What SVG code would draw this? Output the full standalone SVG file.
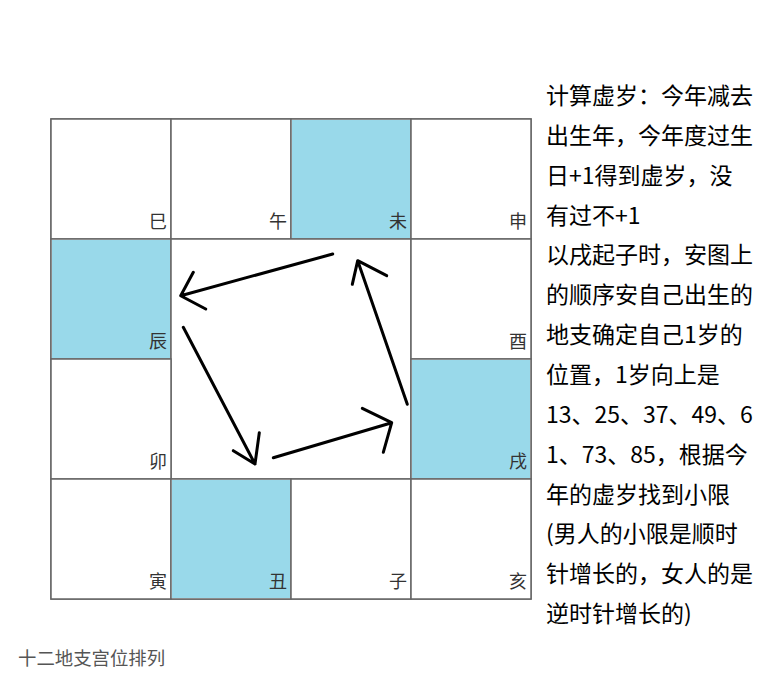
<svg xmlns="http://www.w3.org/2000/svg" width="781" height="683" viewBox="0 0 781 683">
<style>
.cell{fill:#ffffff;stroke:#666666;stroke-width:1.5}
.blue{fill:#99D9EA}
.lbl{font-family:"Noto Sans CJK SC","Noto Sans",sans-serif;font-size:18px;fill:#333333;text-anchor:end}
.note{font-family:"Noto Sans CJK SC","Noto Sans",sans-serif;font-size:23px;fill:#000000}
.cap{font-family:"Noto Sans CJK SC","Noto Sans",sans-serif;font-size:18.4px;fill:#555555}
.arr{fill:none;stroke:#000000;stroke-width:3;stroke-linecap:round;stroke-linejoin:round}
</style>
<rect width="781" height="683" fill="#ffffff"/>
<g id="grid-frame">
<rect x="51" y="119" width="480" height="480" fill="#ffffff" stroke="#666666" stroke-width="1.5"/>
</g>
<g id="cell-si"><rect class="cell" x="51" y="119" width="120" height="120"/><text class="lbl" x="167" y="228">巳</text></g>
<g id="cell-wu"><rect class="cell" x="171" y="119" width="120" height="120"/><text class="lbl" x="287" y="228">午</text></g>
<g id="cell-wei"><rect class="cell" x="291" y="119" width="120" height="120"/><rect class="blue" x="292" y="120" width="118" height="118"/><text class="lbl" x="407" y="228">未</text></g>
<g id="cell-shen"><rect class="cell" x="411" y="119" width="120" height="120"/><text class="lbl" x="527" y="228">申</text></g>
<g id="cell-chen"><rect class="cell" x="51" y="239" width="120" height="120"/><rect class="blue" x="52" y="240" width="118" height="118"/><text class="lbl" x="167" y="348">辰</text></g>
<g id="cell-center"><rect class="cell" x="171" y="239" width="240" height="240"/></g>
<g id="cell-you"><rect class="cell" x="411" y="239" width="120" height="120"/><text class="lbl" x="527" y="348">酉</text></g>
<g id="cell-mao"><rect class="cell" x="51" y="359" width="120" height="120"/><text class="lbl" x="167" y="468">卯</text></g>
<g id="cell-xu"><rect class="cell" x="411" y="359" width="120" height="120"/><rect class="blue" x="412" y="360" width="118" height="118"/><text class="lbl" x="527" y="468">戌</text></g>
<g id="cell-yin"><rect class="cell" x="51" y="479" width="120" height="120"/><text class="lbl" x="167" y="588">寅</text></g>
<g id="cell-chou"><rect class="cell" x="171" y="479" width="120" height="120"/><rect class="blue" x="172" y="480" width="118" height="118"/><text class="lbl" x="287" y="588">丑</text></g>
<g id="cell-zi"><rect class="cell" x="291" y="479" width="120" height="120"/><text class="lbl" x="407" y="588">子</text></g>
<g id="cell-hai"><rect class="cell" x="411" y="479" width="120" height="120"/><text class="lbl" x="527" y="588">亥</text></g>
<g id="connectors">
<path class="arr" d="M332.7,254 L180.7,295.7 M193.3,272.3 L180.7,295.7 L205.7,309"/>
<path class="arr" d="M183.3,327.3 L255,464 M233.3,450.7 L255,464 L259.3,432.7"/>
<path class="arr" d="M273.3,457.7 L391.7,422.7 M362.3,408.3 L391.7,422.7 L383.3,452.3"/>
<path class="arr" d="M407.3,404.3 L357.7,260.7 M352.3,284.3 L357.7,260.7 L386.7,275.7"/>
</g>
<g id="note">
<text class="note" x="546" y="104">计算虚岁：今年减去</text>
<text class="note" x="546" y="143.9">出生年，今年度过生</text>
<text class="note" x="546" y="183.7">日+1得到虚岁，没</text>
<text class="note" x="546" y="223.6">有过不+1</text>
<text class="note" x="546" y="263.4">以戌起子时，安图上</text>
<text class="note" x="546" y="303.3">的顺序安自己出生的</text>
<text class="note" x="546" y="343.1">地支确定自己1岁的</text>
<text class="note" x="546" y="383">位置，1岁向上是</text>
<text class="note" x="546" y="422.8">13、25、37、49、6</text>
<text class="note" x="546" y="462.7">1、73、85，根据今</text>
<text class="note" x="546" y="502.5">年的虚岁找到小限</text>
<text class="note" x="546" y="542.4">(男人的小限是顺时</text>
<text class="note" x="546" y="582.2">针增长的，女人的是</text>
<text class="note" x="546" y="622.1">逆时针增长的)</text>
</g>
<g id="caption">
<text class="cap" x="18" y="665">十二地支宫位排列</text>
</g>
</svg>
